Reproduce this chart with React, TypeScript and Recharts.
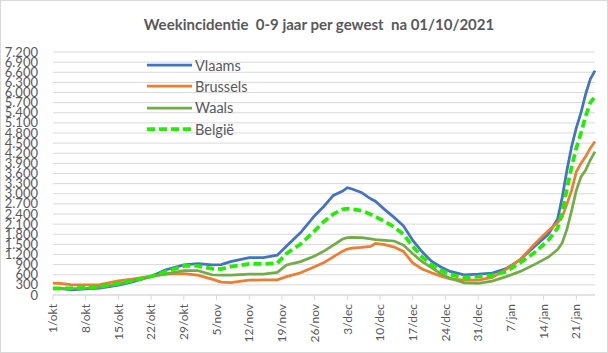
import React from "react";
import { LineChart, Line, XAxis, YAxis, CartesianGrid, Legend } from "recharts";

const days = [0, 2, 4, 7, 10, 14, 17, 21, 24, 28, 31, 34, 36, 38, 42, 45, 48, 50, 53, 56, 58, 60, 62, 63, 64, 66, 68, 69, 71, 73, 75, 77, 79, 81, 83, 85, 88, 91, 94, 97, 100, 103, 106, 108, 109, 110, 111, 112, 113, 114, 115, 116];

const vlaams = [200, 190, 150, 180, 200, 290, 390, 550, 740, 890, 930, 890, 900, 990, 1110, 1110, 1180, 1450, 1850, 2350, 2630, 2950, 3080, 3180, 3140, 3040, 2850, 2780, 2530, 2300, 2050, 1620, 1280, 1000, 830, 700, 600, 620, 650, 780, 1050, 1430, 1800, 2250, 2900, 3700, 4400, 4950, 5400, 5950, 6400, 6650];

const brussels = [350, 340, 300, 300, 310, 420, 470, 560, 620, 630, 590, 470, 380, 370, 440, 450, 450, 545, 660, 840, 960, 1130, 1300, 1360, 1390, 1410, 1440, 1530, 1490, 1420, 1290, 950, 770, 660, 560, 480, 440, 440, 520, 760, 1050, 1500, 1900, 2150, 2320, 2700, 3100, 3650, 3900, 4100, 4350, 4550];

const waals = [180, 180, 190, 200, 230, 320, 420, 550, 620, 720, 720, 600, 590, 590, 620, 620, 670, 890, 990, 1155, 1300, 1480, 1660, 1700, 1710, 1700, 1660, 1640, 1620, 1600, 1480, 1220, 990, 810, 630, 500, 360, 345, 410, 545, 700, 900, 1120, 1350, 1550, 1950, 2500, 3100, 3500, 3700, 4000, 4250];

const belgie = [200, 200, 200, 210, 240, 340, 430, 550, 690, 860, 860, 780, 770, 840, 920, 920, 940, 1230, 1510, 1900, 2180, 2400, 2540, 2560, 2540, 2500, 2390, 2320, 2180, 2020, 1800, 1440, 1130, 900, 740, 600, 520, 545, 580, 690, 960, 1250, 1620, 1980, 2450, 3150, 3800, 4350, 4800, 5300, 5700, 5880];

const tickDays = [0, 7, 14, 21, 28, 35, 42, 49, 56, 63, 70, 77, 84, 91, 98, 105, 112];
const tickLabels = ["1/okt", "8/okt", "15/okt", "22/okt", "29/okt", "5/nov", "12/nov", "19/nov", "26/nov", "3/dec", "10/dec", "17/dec", "24/dec", "31/dec", "7/jan", "14/jan", "21/jan"];
const yTicks = [0, 300, 600, 900, 1200, 1500, 1800, 2100, 2400, 2700, 3000, 3300, 3600, 3900, 4200, 4500, 4800, 5100, 5400, 5700, 6000, 6300, 6600, 6900, 7200];

const seriesNames = ["Vlaams", "Brussels", "Waals", "België"];
const seriesKeys = ["vlaams", "brussels", "waals", "belgie"];
const seriesColors = ["#4472C4", "#ED7D31", "#70AD47", "#22EE00"];
const seriesDash = ["", "", "", "8 4"];
const seriesWidth = [2.75, 2.75, 2.75, 3.75];

const title = "Weekincidentie  0-9 jaar per gewest  na 01/10/2021";

const data = days.map((d, i) => ({
  day: d,
  vlaams: vlaams[i],
  brussels: brussels[i],
  waals: waals[i],
  belgie: belgie[i],
}));

const FONT = "Lato, 'Open Sans', sans-serif";
const TXT = "#595959";

const fmt = (v: number) => (v >= 1000 ? `${Math.floor(v / 1000)}.${String(v % 1000).padStart(3, "0")}` : `${v}`);

const XTick = (props: any) => {
  const { x, y, index } = props;
  return (
    <text
      x={x}
      y={y + 2}
      transform={`rotate(-90, ${x}, ${y + 2})`}
      textAnchor="end"
      dy="0.35em"
      fill={TXT}
      fontSize={12}
      fontFamily={FONT}
    >
      {tickLabels[index]}
    </text>
  );
};

const LegendContent = () => (
  <div style={{ fontFamily: FONT, fontSize: 14.5, color: TXT }}>
    {seriesNames.map((n, i) => (
      <div key={n} style={{ display: "flex", alignItems: "center", height: 21.3 }}>
        <svg width={48} height={8} style={{ display: "block" }}>
          <line
            x1={1}
            y1={4}
            x2={46}
            y2={4}
            stroke={seriesColors[i]}
            strokeWidth={seriesWidth[i]}
            strokeDasharray={seriesDash[i] || undefined}
          />
        </svg>
        <span style={{ marginLeft: 1, lineHeight: "21px" }}>{n}</span>
      </div>
    ))}
  </div>
);

export default function App() {
  return (
    <div style={{ position: "absolute", left: 0, top: 0, width: 608, height: 353, background: "#fff" }}>
      <LineChart width={608} height={353} data={data} margin={{ top: 52, right: 13, bottom: 0, left: 0 }}>
        <CartesianGrid vertical={false} stroke="#d9d9d9" strokeWidth={1} />
        <XAxis
          dataKey="day"
          type="number"
          domain={[0, 116]}
          ticks={tickDays}
          interval={0}
          height={58}
          stroke="#d9d9d9"
          tickSize={5}
          tick={<XTick />}
        />
        <YAxis
          domain={[0, 7200]}
          ticks={yTicks}
          interval={0}
          width={53}
          axisLine={false}
          tickLine={false}
          tickSize={0}
          tickMargin={15}
          tickFormatter={fmt}
          tick={{ fill: TXT, fontSize: 13, fontFamily: FONT }}
        />
        <Legend
          layout="vertical"
          align="center"
          verticalAlign="middle"
          wrapperStyle={{ left: 146, top: 54.5, width: 140 }}
          content={<LegendContent />}
        />
        {seriesKeys.map((k, i) => (
          <Line
            key={k}
            dataKey={k}
            name={seriesNames[i]}
            type="linear"
            stroke={seriesColors[i]}
            strokeWidth={seriesWidth[i]}
            strokeDasharray={seriesDash[i] || undefined}
            dot={false}
            activeDot={false}
            isAnimationActive={false}
          />
        ))}
      </LineChart>
      <svg width={608} height={40} style={{ position: "absolute", left: 0, top: 0, pointerEvents: "none" }}>
        <text
          x={319}
          y={30}
          textAnchor="middle"
          fontFamily={FONT}
          fontWeight="bold"
          fontSize={15}
          fill={TXT}
          style={{ whiteSpace: "pre" }}
        >
          {title}
        </text>
      </svg>
      <div
        style={{
          position: "absolute",
          left: 0,
          top: 0,
          width: 608,
          height: 353,
          boxSizing: "border-box",
          border: "1px solid #d9d9d9",
          pointerEvents: "none",
        }}
      />
    </div>
  );
}
